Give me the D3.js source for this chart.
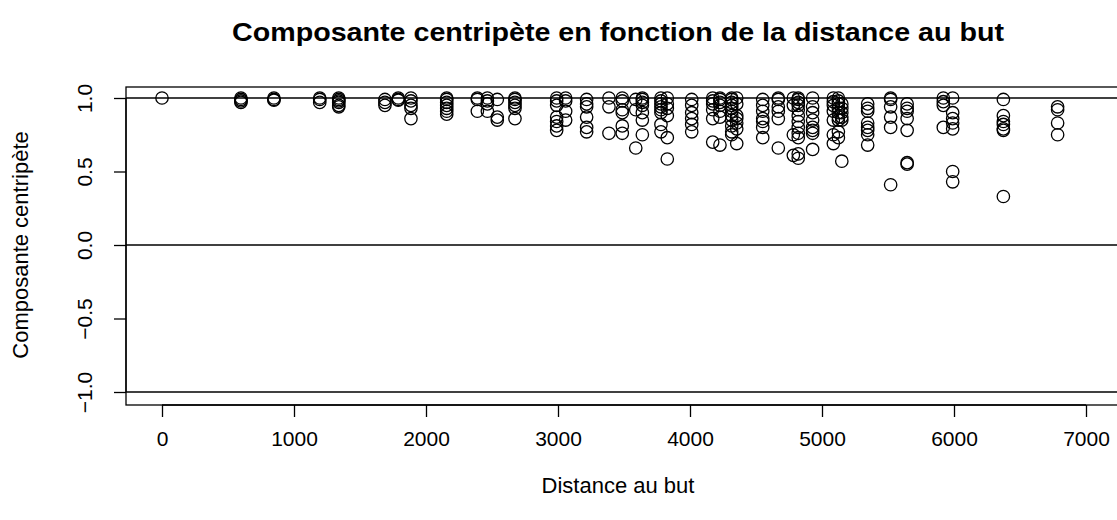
<!DOCTYPE html>
<html>
<head>
<meta charset="utf-8">
<script src="https://cdn.jsdelivr.net/npm/d3@7"></script>
<style>
  html, body { margin: 0; padding: 0; background: #fff; }
  svg { display: block; font-family: "Liberation Sans", Arial, Helvetica, sans-serif; }
</style>
</head>
<body>
<svg id="chart" width="1117" height="520"></svg>
<script>
// ---- Data ----
const distances = [0, 598, 848, 1195, 1339, 1689, 1790, 1886, 2157, 2389, 2465, 2540, 2674,
  2990, 3058, 3217, 3386, 3487, 3589, 3639, 3780, 3828, 4013, 4172, 4227, 4316, 4354,
  4551, 4669, 4783, 4820, 4929, 5086, 5124, 5150, 5346, 5520, 5645, 5919, 5990, 6374, 6785];

const composantes = [
  [1.0],
  [1.0, 0.99, 0.98, 0.97],
  [1.0, 0.99, 0.985],
  [1.0, 0.99, 0.97],
  [1.0, 0.99, 0.98, 0.97, 0.95, 0.94],
  [0.99, 0.97, 0.95],
  [1.0, 0.99, 0.985],
  [1.0, 0.98, 0.95, 0.93, 0.86],
  [1.0, 0.99, 0.97, 0.95, 0.93, 0.91, 0.89],
  [1.0, 0.99, 0.91],
  [1.0, 0.98, 0.96, 0.91],
  [0.99, 0.87, 0.85],
  [1.0, 0.99, 0.97, 0.95, 0.93, 0.86],
  [1.0, 0.98, 0.95, 0.87, 0.84, 0.81, 0.78],
  [1.0, 0.98, 0.91, 0.85],
  [0.99, 0.96, 0.94, 0.87, 0.80, 0.77],
  [1.0, 0.94, 0.76],
  [1.0, 0.98, 0.92, 0.90, 0.81, 0.76],
  [0.99, 0.92, 0.66],
  [1.0, 0.99, 0.97, 0.95, 0.90, 0.85, 0.75],
  [1.0, 0.98, 0.96, 0.94, 0.92, 0.90, 0.82, 0.77],
  [1.0, 0.96, 0.93, 0.88, 0.73, 0.585],
  [0.99, 0.95, 0.90, 0.86, 0.82, 0.77],
  [1.0, 0.98, 0.96, 0.92, 0.86, 0.70],
  [1.0, 0.99, 0.97, 0.95, 0.91, 0.87, 0.68],
  [1.0, 0.99, 0.97, 0.95, 0.93, 0.91, 0.88, 0.85, 0.81, 0.77, 0.75],
  [1.0, 0.96, 0.88, 0.86, 0.83, 0.79, 0.69],
  [0.99, 0.95, 0.91, 0.86, 0.84, 0.80, 0.73],
  [1.0, 0.99, 0.94, 0.91, 0.86, 0.66],
  [1.0, 0.95, 0.75, 0.61],
  [1.0, 0.99, 0.97, 0.95, 0.92, 0.88, 0.84, 0.80, 0.76, 0.73, 0.62, 0.59],
  [1.0, 0.94, 0.90, 0.85, 0.80, 0.78, 0.76, 0.65],
  [1.0, 0.975, 0.95, 0.91, 0.85, 0.75, 0.69],
  [1.0, 0.98, 0.96, 0.93, 0.90, 0.87, 0.85, 0.77, 0.73],
  [0.96, 0.93, 0.90, 0.87, 0.85, 0.57],
  [0.96, 0.93, 0.91, 0.83, 0.80, 0.78, 0.75, 0.68],
  [1.0, 0.99, 0.94, 0.87, 0.80, 0.41],
  [0.96, 0.93, 0.91, 0.86, 0.78, 0.56, 0.55],
  [1.0, 0.975, 0.95, 0.80],
  [1.0, 0.90, 0.86, 0.83, 0.79, 0.50, 0.43],
  [0.99, 0.88, 0.84, 0.82, 0.79, 0.78, 0.33],
  [0.94, 0.92, 0.83, 0.75]
];

const xTicks = [0, 1000, 2000, 3000, 4000, 5000, 6000, 7000];
const yTicks = [-1.0, -0.5, 0.0, 0.5, 1.0];
const refLines = [1, 0, -1];

const titleText = "Composante centripète en fonction de la distance au but";
const xLabel = "Distance au but";
const yLabel = "Composante centripète";

// ---- Drawing ----
const svg = d3.select("#chart");
const box = { left: 126, top: 87, right: 1121, bottom: 405 };

const x = d3.scaleLinear().domain([0, 7000]).range([162, 1086]);
const y = d3.scaleLinear().domain([-1, 1]).range([392, 98]);

const points = [];
distances.forEach((d, i) => composantes[i].forEach(v => points.push({ d, v })));

const fmt = v => (v < 0 ? "\u2212" : "") + Math.abs(v).toFixed(1);

// plot box
svg.append("rect")
  .attr("x", box.left).attr("y", box.top)
  .attr("width", box.right - box.left).attr("height", box.bottom - box.top)
  .attr("fill", "none").attr("stroke", "#000").attr("stroke-width", 1.3);

// reference lines (abline)
svg.append("g").selectAll("line").data(refLines).join("line")
  .attr("x1", box.left).attr("x2", box.right)
  .attr("y1", d => y(d)).attr("y2", d => y(d))
  .attr("stroke", "#000").attr("stroke-width", 1.3);

// x axis
const xAxis = d3.axisBottom(x).tickValues(xTicks).tickSize(12).tickPadding(14)
  .tickFormat(d3.format("d"));
const gx = svg.append("g").attr("transform", `translate(0,${box.bottom})`).call(xAxis);
gx.select(".domain").attr("d", `M${x(0)},0H${x(7000)}`).attr("stroke-width", 1.3);
gx.selectAll(".tick line").attr("stroke-width", 1.3);
gx.selectAll("text").attr("font-size", 21).attr("fill", "#000")
  .attr("font-family", "'Liberation Sans', Arial, sans-serif");

// y axis
const yAxis = d3.axisLeft(y).tickValues(yTicks).tickSize(12).tickPadding(0).tickFormat(fmt);
const gy = svg.append("g").attr("transform", `translate(${box.left},0)`).call(yAxis);
gy.select(".domain").attr("d", `M0,${y(-1)}V${y(1)}`).attr("stroke-width", 1.3);
gy.selectAll(".tick line").attr("stroke-width", 1.3);
gy.selectAll("text")
  .attr("x", null).attr("dy", null)
  .attr("transform", "translate(-34,0) rotate(-90)")
  .attr("text-anchor", "middle")
  .attr("font-size", 21).attr("fill", "#000")
  .attr("font-family", "'Liberation Sans', Arial, sans-serif");

// points
svg.append("g").selectAll("circle").data(points).join("circle")
  .attr("cx", p => x(p.d)).attr("cy", p => y(p.v)).attr("r", 6.2)
  .attr("fill", "none").attr("stroke", "#000").attr("stroke-width", 1.3);

// title
svg.append("text").attr("x", 618).attr("y", 41).attr("text-anchor", "middle")
  .attr("font-size", 25).attr("font-weight", "bold")
  .attr("textLength", 772).attr("lengthAdjust", "spacingAndGlyphs")
  .text(titleText);

// axis titles
svg.append("text").attr("x", 618).attr("y", 493).attr("text-anchor", "middle")
  .attr("font-size", 22).text(xLabel);
svg.append("text").attr("transform", "translate(28,245) rotate(-90)")
  .attr("text-anchor", "middle").attr("font-size", 22).text(yLabel);
</script>
</body>
</html>
